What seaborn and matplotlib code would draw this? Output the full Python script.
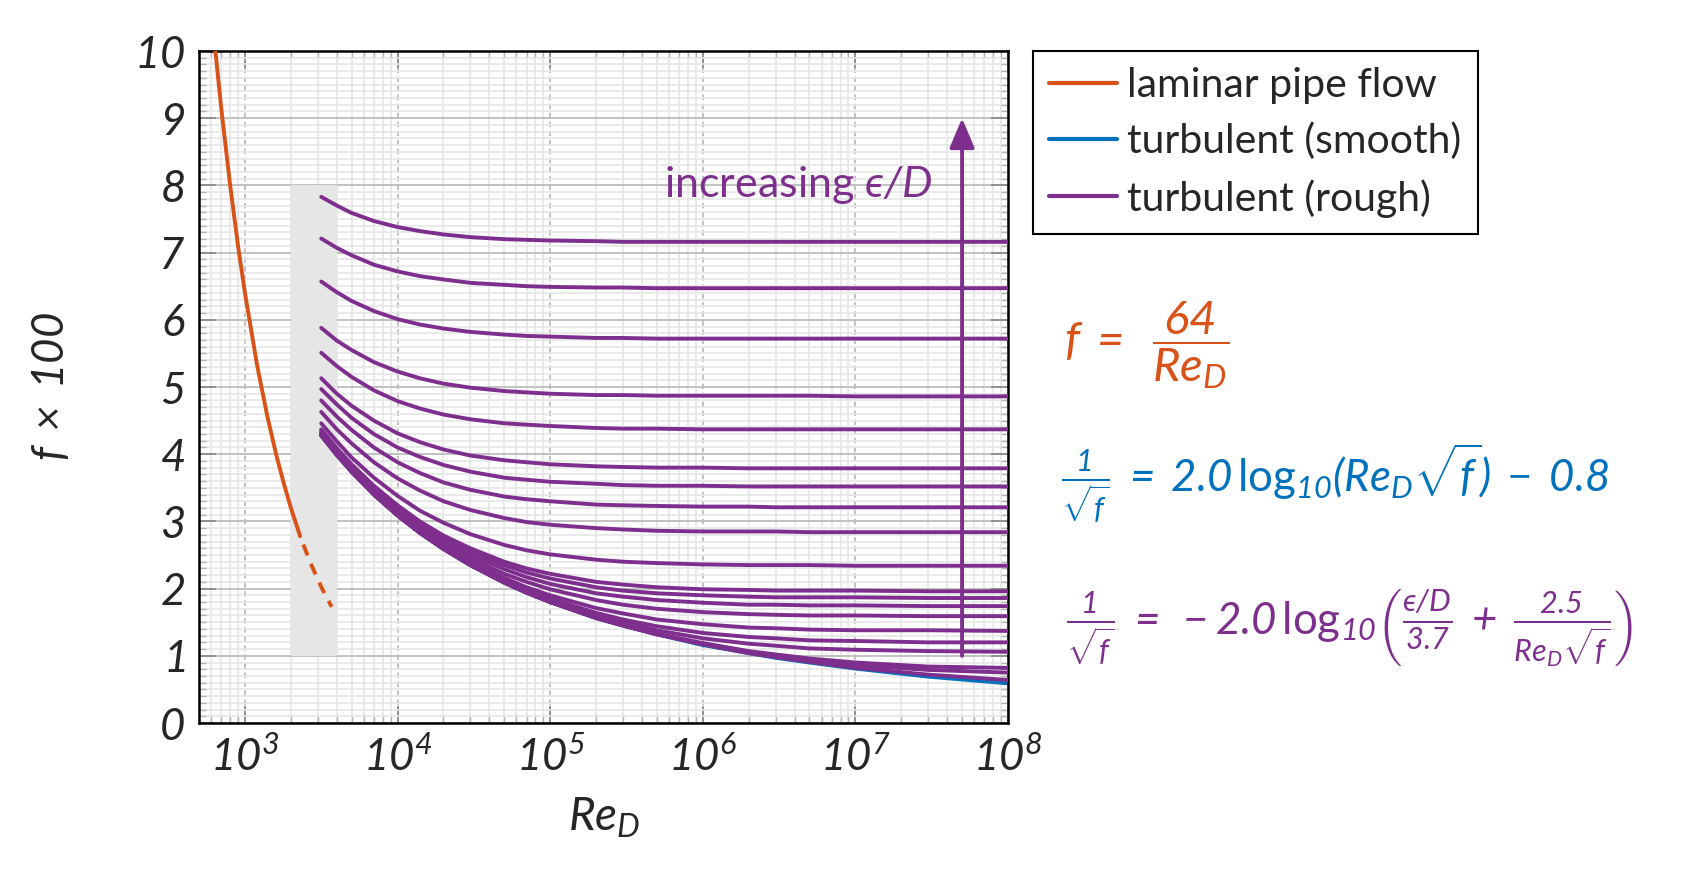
import numpy as np
import pandas as pd
import matplotlib
matplotlib.use("Agg")
import matplotlib.pyplot as plt
import seaborn as sns
from matplotlib.lines import Line2D
from matplotlib.ticker import LogLocator, MultipleLocator, FuncFormatter

ORANGE = "#D95319"
BLUE = "#0072BD"
PURPLE = "#7E2F8E"

# laminar branch (f x 100), solid part and the dashed transition part
lam_re = [640, 700, 800, 900, 1000, 1200, 1400, 1600, 1800, 2000, 2300]
lam_f = [10.0, 9.14, 8.0, 7.11, 6.4, 5.33, 4.57, 4.0, 3.56, 3.2, 2.78]
trans_re = [2300, 2700, 3200, 3700]
trans_f = [2.78, 2.37, 2.0, 1.73]

re_grid = [3.16e3, 4e3, 5e3, 7e3, 1e4, 1.4e4, 2e4, 3e4, 5e4, 7e4, 1e5,
           2e5, 3e5, 5e5, 1e6, 2e6, 3e6, 5e6, 1e7, 3e7, 1e8]

smooth_f = [4.28, 3.99, 3.74, 3.40, 3.09, 2.83, 2.59, 2.35, 2.09, 1.94, 1.80,
            1.56, 1.45, 1.32, 1.16, 1.04, 0.97, 0.90, 0.81, 0.69, 0.59]

# rough pipes, one list per eps/D (f x 100)
f_eps_5e_2 = [7.83, 7.70, 7.59, 7.47, 7.38, 7.32, 7.27, 7.23, 7.20, 7.19, 7.18,
              7.17, 7.16, 7.16, 7.16, 7.16, 7.16, 7.16, 7.16, 7.16, 7.16]
f_eps_4e_2 = [7.21, 7.07, 6.96, 6.82, 6.72, 6.65, 6.60, 6.55, 6.52, 6.50, 6.49,
              6.48, 6.48, 6.47, 6.47, 6.47, 6.47, 6.47, 6.47, 6.47, 6.47]
f_eps_3e_2 = [6.57, 6.41, 6.28, 6.13, 6.01, 5.93, 5.87, 5.82, 5.78, 5.76, 5.75,
              5.73, 5.73, 5.72, 5.72, 5.72, 5.72, 5.72, 5.72, 5.72, 5.72]
f_eps_2e_2 = [5.88, 5.69, 5.55, 5.37, 5.23, 5.13, 5.05, 4.99, 4.94, 4.92, 4.90,
              4.88, 4.88, 4.87, 4.87, 4.87, 4.87, 4.87, 4.86, 4.86, 4.86]
f_eps_15e_3 = [5.51, 5.31, 5.15, 4.95, 4.79, 4.68, 4.59, 4.52, 4.46, 4.44, 4.42,
               4.39, 4.38, 4.38, 4.37, 4.37, 4.37, 4.37, 4.37, 4.37, 4.37]
f_eps_1e_2 = [5.13, 4.90, 4.72, 4.50, 4.31, 4.18, 4.07, 3.98, 3.91, 3.88, 3.85,
              3.82, 3.81, 3.80, 3.80, 3.79, 3.79, 3.79, 3.79, 3.79, 3.79]
f_eps_8e_3 = [4.97, 4.74, 4.54, 4.30, 4.10, 3.96, 3.84, 3.74, 3.65, 3.62, 3.59,
              3.56, 3.54, 3.53, 3.53, 3.52, 3.52, 3.52, 3.52, 3.52, 3.52]
f_eps_6e_3 = [4.80, 4.56, 4.36, 4.10, 3.88, 3.72, 3.58, 3.47, 3.37, 3.33, 3.30,
              3.25, 3.24, 3.23, 3.22, 3.22, 3.21, 3.21, 3.21, 3.21, 3.21]
f_eps_4e_3 = [4.63, 4.37, 4.16, 3.88, 3.64, 3.46, 3.30, 3.17, 3.05, 2.99, 2.95,
              2.90, 2.88, 2.86, 2.85, 2.85, 2.85, 2.84, 2.84, 2.84, 2.84]
f_eps_2e_3 = [4.46, 4.19, 3.95, 3.65, 3.38, 3.16, 2.98, 2.81, 2.65, 2.57, 2.51,
              2.43, 2.40, 2.38, 2.36, 2.35, 2.35, 2.35, 2.34, 2.34, 2.34]
f_eps_1e_3 = [4.37, 4.09, 3.85, 3.53, 3.24, 3.00, 2.79, 2.60, 2.40, 2.30, 2.22,
              2.10, 2.06, 2.02, 1.99, 1.98, 1.97, 1.97, 1.97, 1.96, 1.96]
f_eps_8e_4 = [4.35, 4.07, 3.82, 3.50, 3.21, 2.97, 2.75, 2.55, 2.35, 2.24, 2.15,
              2.02, 1.97, 1.93, 1.90, 1.88, 1.87, 1.87, 1.87, 1.86, 1.86]
f_eps_6e_4 = [4.33, 4.05, 3.80, 3.48, 3.18, 2.93, 2.71, 2.50, 2.29, 2.17, 2.07,
              1.93, 1.88, 1.83, 1.79, 1.76, 1.76, 1.75, 1.75, 1.74, 1.74]
f_eps_4e_4 = [4.31, 4.03, 3.78, 3.45, 3.15, 2.90, 2.67, 2.45, 2.22, 2.10, 1.99,
              1.83, 1.76, 1.70, 1.65, 1.62, 1.61, 1.60, 1.60, 1.59, 1.59]
f_eps_2e_4 = [4.30, 4.01, 3.76, 3.42, 3.12, 2.86, 2.63, 2.40, 2.16, 2.02, 1.90,
              1.71, 1.63, 1.54, 1.47, 1.42, 1.41, 1.39, 1.38, 1.38, 1.37]
f_eps_1e_4 = [4.29, 4.00, 3.75, 3.41, 3.10, 2.85, 2.61, 2.37, 2.12, 1.98, 1.85,
              1.64, 1.54, 1.44, 1.34, 1.28, 1.26, 1.23, 1.22, 1.20, 1.20]
f_eps_5e_5 = [4.28, 3.99, 3.74, 3.40, 3.09, 2.84, 2.60, 2.36, 2.11, 1.96, 1.82,
              1.60, 1.50, 1.38, 1.26, 1.18, 1.15, 1.11, 1.09, 1.07, 1.06]
f_eps_1e_5 = [4.28, 3.99, 3.74, 3.40, 3.09, 2.83, 2.59, 2.35, 2.09, 1.94, 1.80,
              1.57, 1.46, 1.33, 1.19, 1.07, 1.02, 0.96, 0.90, 0.84, 0.82]
f_eps_5e_6 = [4.28, 3.99, 3.74, 3.40, 3.09, 2.83, 2.59, 2.35, 2.09, 1.94, 1.80,
              1.57, 1.45, 1.32, 1.18, 1.06, 1.00, 0.93, 0.86, 0.79, 0.75]
f_eps_1e_6 = [4.28, 3.99, 3.74, 3.40, 3.09, 2.83, 2.59, 2.35, 2.09, 1.94, 1.80,
              1.56, 1.45, 1.32, 1.17, 1.04, 0.98, 0.91, 0.82, 0.72, 0.64]

rough = {
    "0.05": f_eps_5e_2, "0.04": f_eps_4e_2, "0.03": f_eps_3e_2, "0.02": f_eps_2e_2,
    "0.015": f_eps_15e_3, "0.01": f_eps_1e_2, "0.008": f_eps_8e_3, "0.006": f_eps_6e_3,
    "0.004": f_eps_4e_3, "0.002": f_eps_2e_3, "0.001": f_eps_1e_3, "0.0008": f_eps_8e_4,
    "0.0006": f_eps_6e_4, "0.0004": f_eps_4e_4, "0.0002": f_eps_2e_4, "0.0001": f_eps_1e_4,
    "5e-5": f_eps_5e_5, "1e-5": f_eps_1e_5, "5e-6": f_eps_5e_6, "1e-6": f_eps_1e_6,
}

# transition zone shading and the eps/D arrow
zone_re = [2000, 4000]
zone_f = [1, 8]
arrow_re = 5e7
arrow_f = [1, 9]

legend_labels = ["laminar pipe flow", "turbulent (smooth)", "turbulent (rough)"]

rough_df = pd.concat(
    [pd.DataFrame({"Re": re_grid, "f": vals, "eps": k}) for k, vals in rough.items()],
    ignore_index=True)

sns.set_theme(style="white")
plt.rcParams["font.family"] = ["Lato", "DejaVu Sans"]
plt.rcParams["mathtext.fontset"] = "custom"
plt.rcParams["mathtext.rm"] = "Lato:italic"
plt.rcParams["mathtext.it"] = "Lato:italic"
plt.rcParams["mathtext.sf"] = "Lato"
plt.rcParams["mathtext.bf"] = "Lato:bold"

W, H = 1683, 873
fig = plt.figure(figsize=(W / 100, H / 100), dpi=100)
ax = fig.add_axes([199 / W, 1 - 723 / H, (1008 - 199) / W, (723 - 51) / H])

ax.fill_between(zone_re, zone_f[0], zone_f[1], color="#e6e6e6", lw=0, zorder=1.5)

LW = 2.8
sns.lineplot(x=lam_re, y=lam_f, color=ORANGE, lw=LW, ax=ax, zorder=3)
sns.lineplot(x=trans_re, y=trans_f, color=ORANGE, lw=LW, ax=ax, zorder=3,
             linestyle=(3.0, (3.0, 2.3)))
sns.lineplot(x=re_grid, y=smooth_f, color=BLUE, lw=LW, ax=ax, zorder=2.5)
sns.lineplot(data=rough_df, x="Re", y="f", units="eps", estimator=None,
             color=PURPLE, lw=LW, ax=ax, zorder=3, sort=False, legend=False)

ax.set_xscale("log")
ax.set_xlim(500, 1e8)
ax.set_ylim(0, 10)
ax.set_xlabel("")
ax.set_ylabel("")

ax.set_xticks([1e3, 1e4, 1e5, 1e6, 1e7, 1e8])
ax.xaxis.set_minor_locator(LogLocator(base=10, subs=np.arange(2, 10), numticks=20))
ax.xaxis.set_major_formatter(FuncFormatter(lambda v, p: r"$10^{%d}$" % round(np.log10(v))))
ax.yaxis.set_major_locator(MultipleLocator(1))
ax.yaxis.set_minor_locator(MultipleLocator(0.1))
ax.yaxis.set_major_formatter(FuncFormatter(lambda v, p: r"$%d$" % v))

ax.set_axisbelow(True)
ax.grid(which="minor", color="#e6e6e6", lw=1.2)
ax.grid(which="major", axis="y", color="#bdbdbd", lw=1.3)
ax.grid(which="major", axis="x", color="#bdbdbd", lw=1.3, ls=(0, (3, 2)))
ax.tick_params(which="major", direction="in", length=12, width=1.3, color="#8c8c8c",
               top=True, right=True, bottom=True, left=True, pad=10, labelsize=31.5)
ax.tick_params(which="minor", direction="in", length=5, width=1, color="#b5b5b5",
               top=True, right=True, bottom=True, left=True)
for s in ax.spines.values():
    s.set_color("black")
    s.set_linewidth(1.8)

ax.annotate("", xy=(arrow_re, arrow_f[1]), xytext=(arrow_re, arrow_f[0]),
            arrowprops=dict(arrowstyle="-|>,head_length=0.9,head_width=0.38",
                            color=PURPLE, lw=2.8, shrinkA=0, shrinkB=0,
                            mutation_scale=20), zorder=5)
ax.text(3.2e7, 8.0, "increasing $ϵ/D$", color=PURPLE, ha="right",
        va="center", fontsize=31)

fig.text(604 / W, 1 - 818 / H, r"$Re_D$", ha="center", va="center", fontsize=33)
fig.text(52 / W, 1 - 387 / H, r"$f\;\times\;100$", ha="center", va="center",
         rotation=90, fontsize=31.5)

handles = [Line2D([], [], color=c, lw=3) for c in (ORANGE, BLUE, PURPLE)]
leg = fig.legend(handles, legend_labels, loc="upper left",
                 bbox_to_anchor=(1033 / W, 1 - 51 / H), fontsize=29.5, frameon=True,
                 fancybox=False, edgecolor="black", framealpha=1, borderpad=0.4,
                 handlelength=1.65, handletextpad=0.25, labelspacing=0.45,
                 borderaxespad=0)
leg.get_frame().set_linewidth(1.5)

fig.text(1064 / W, 1 - 345 / H, r"$f\;=\;\;\dfrac{64}{Re_D}$", color=ORANGE,
         fontsize=34, ha="left", va="center")
fig.text(1061 / W, 1 - 483 / H,
         r"$\frac{1}{\sqrt{f}}\;=\;2.0\,\mathsf{log}_{10}(Re_D\sqrt{f})\;-\;0.8$",
         color=BLUE, fontsize=31.5, ha="left", va="center")
fig.text(1066 / W, 1 - 628 / H,
         r"$\frac{1}{\sqrt{f}}\;=\;-2.0\,\mathsf{log}_{10}\left(\frac{ϵ/D}{3.7}"
         r"\;+\;\frac{2.5}{Re_D\sqrt{f}}\right)$",
         color=PURPLE, fontsize=31.5, ha="left", va="center")

fig.savefig("out.png", dpi=100, facecolor="white")
